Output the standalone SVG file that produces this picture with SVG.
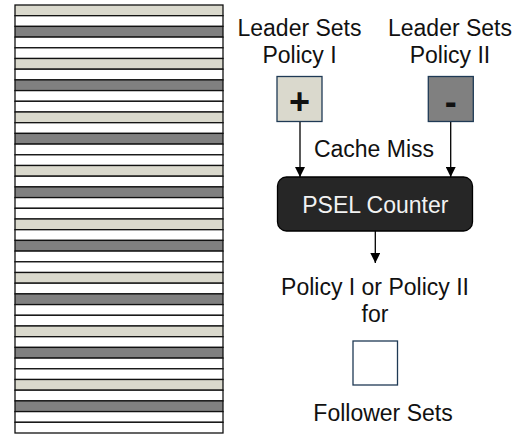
<svg xmlns="http://www.w3.org/2000/svg" width="528" height="434" viewBox="0 0 528 434">
<style>
.t{font-family:"Liberation Sans",Arial,sans-serif;font-size:23px;fill:#111;text-anchor:middle}
.sym{font-size:36px;font-weight:bold}
.s{stroke:#111;stroke-width:1.3}
.b{fill:#DAD9CD}.w{fill:#FFFFFF}.g{fill:#808080}
.box{stroke:#1F3A55;stroke-width:1.3}
.c{stroke:#000;stroke-width:1.3;fill:none}
</style>
<defs>
<marker id="ah" markerUnits="userSpaceOnUse" markerWidth="10" markerHeight="10" refX="10" refY="5" orient="auto">
<path d="M0,0 L10,5 L0,10 Z" fill="#000"/>
</marker>
</defs>
<g id="sets">
<rect class="s b" x="15" y="5.0" width="208" height="10.7"/>
<rect class="s w" x="15" y="15.7" width="208" height="10.7"/>
<rect class="s g" x="15" y="26.4" width="208" height="10.7"/>
<rect class="s w" x="15" y="37.1" width="208" height="10.7"/>
<rect class="s w" x="15" y="47.8" width="208" height="10.7"/>
<rect class="s b" x="15" y="58.5" width="208" height="10.7"/>
<rect class="s w" x="15" y="69.2" width="208" height="10.7"/>
<rect class="s g" x="15" y="79.9" width="208" height="10.7"/>
<rect class="s w" x="15" y="90.6" width="208" height="10.7"/>
<rect class="s w" x="15" y="101.3" width="208" height="10.7"/>
<rect class="s b" x="15" y="112.0" width="208" height="10.7"/>
<rect class="s w" x="15" y="122.7" width="208" height="10.7"/>
<rect class="s g" x="15" y="133.4" width="208" height="10.7"/>
<rect class="s w" x="15" y="144.1" width="208" height="10.7"/>
<rect class="s w" x="15" y="154.8" width="208" height="10.7"/>
<rect class="s b" x="15" y="165.5" width="208" height="10.7"/>
<rect class="s w" x="15" y="176.2" width="208" height="10.7"/>
<rect class="s g" x="15" y="186.9" width="208" height="10.7"/>
<rect class="s w" x="15" y="197.6" width="208" height="10.7"/>
<rect class="s w" x="15" y="208.3" width="208" height="10.7"/>
<rect class="s b" x="15" y="219.0" width="208" height="10.7"/>
<rect class="s w" x="15" y="229.7" width="208" height="10.7"/>
<rect class="s g" x="15" y="240.4" width="208" height="10.7"/>
<rect class="s w" x="15" y="251.1" width="208" height="10.7"/>
<rect class="s w" x="15" y="261.8" width="208" height="10.7"/>
<rect class="s b" x="15" y="272.5" width="208" height="10.7"/>
<rect class="s w" x="15" y="283.2" width="208" height="10.7"/>
<rect class="s g" x="15" y="293.9" width="208" height="10.7"/>
<rect class="s w" x="15" y="304.6" width="208" height="10.7"/>
<rect class="s w" x="15" y="315.3" width="208" height="10.7"/>
<rect class="s b" x="15" y="326.0" width="208" height="10.7"/>
<rect class="s w" x="15" y="336.7" width="208" height="10.7"/>
<rect class="s g" x="15" y="347.4" width="208" height="10.7"/>
<rect class="s w" x="15" y="358.1" width="208" height="10.7"/>
<rect class="s w" x="15" y="368.8" width="208" height="10.7"/>
<rect class="s b" x="15" y="379.5" width="208" height="10.7"/>
<rect class="s w" x="15" y="390.2" width="208" height="10.7"/>
<rect class="s g" x="15" y="400.9" width="208" height="10.7"/>
<rect class="s w" x="15" y="411.6" width="208" height="10.7"/>
<rect class="s w" x="15" y="422.3" width="208" height="10.7"/>
</g>
<g id="connectors">
<line class="c" x1="300" y1="122" x2="300" y2="177" marker-end="url(#ah)"/>
<line class="c" x1="450.7" y1="122" x2="450.7" y2="177" marker-end="url(#ah)"/>
<line class="c" x1="375.3" y1="231" x2="375.3" y2="263" marker-end="url(#ah)"/>
<text class="t" x="374" y="157">Cache Miss</text>
</g>
<g id="leader1">
<text class="t" x="299.5" y="36">Leader Sets</text>
<text class="t" x="299.5" y="63">Policy I</text>
<rect class="box b" x="277" y="76.5" width="45" height="45"/>
<text class="t sym" x="299.5" y="114">+</text>
</g>
<g id="leader2">
<text class="t" x="450" y="36">Leader Sets</text>
<text class="t" x="450" y="63">Policy II</text>
<rect class="box g" x="428.3" y="76.5" width="45" height="45"/>
<text class="t sym" x="450.7" y="114">-</text>
</g>
<g id="psel">
<rect x="277.5" y="177" width="195" height="54" rx="9" fill="#262626" stroke="#000" stroke-width="1.3"/>
<text class="t" x="375.3" y="213" style="fill:#f2f2f2">PSEL Counter</text>
</g>
<g id="result">
<text class="t" x="375" y="295">Policy I or Policy II</text>
<text class="t" x="375" y="322">for</text>
</g>
<g id="follower">
<rect class="box w" x="353" y="341" width="44.5" height="44"/>
<text class="t" x="383" y="421">Follower Sets</text>
</g>
</svg>
